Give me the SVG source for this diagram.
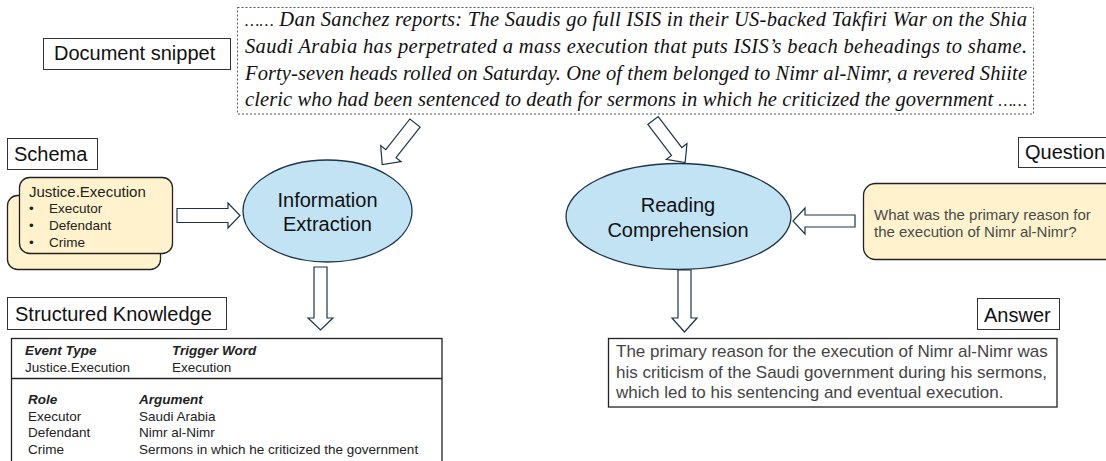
<svg xmlns="http://www.w3.org/2000/svg" width="1106" height="461" viewBox="0 0 1106 461">
<style>
.lbl{fill:#fff;stroke:#333;stroke-width:1}
.lt{font-family:"Liberation Sans",Arial,sans-serif;font-size:20px;fill:#111}
.snip{font-family:"Liberation Serif","Times New Roman",serif;font-style:italic;font-size:20.5px;fill:#111}
.card{fill:#FFF2CC;stroke:#222;stroke-width:1.3}
.ell{fill:#C2E3F4;stroke:#1d3547;stroke-width:1.3}
.et{font-family:"Liberation Sans",Arial,sans-serif;font-size:20px;fill:#111;text-anchor:middle}
.arr{fill:#fff;stroke:#1d3547;stroke-width:1.2;stroke-linejoin:miter}
.s{font-family:"Liberation Sans",Arial,sans-serif;fill:#222}
.tb{font-family:"Liberation Sans",Arial,sans-serif;font-size:13.5px;fill:#222}
.th{font-weight:bold;font-style:italic}
</style>
<defs>
<polygon id="diag" points="0,-6.5 39,-6.5 39,-13 53,0 39,13 39,6.5 0,6.5"/>
</defs>

<g id="doc-label">
<rect class="lbl" x="43.5" y="38.5" width="187" height="31"/>
<text class="lt" x="54" y="60">Document snippet</text>
</g>

<g id="doc-snippet">
<rect x="237.5" y="7.5" width="796" height="106.5" fill="#fff" stroke="#555" stroke-width="1" stroke-dasharray="2,2"/>
<text class="snip" x="245" y="26" textLength="782" lengthAdjust="spacing"><tspan font-size="16">……</tspan> Dan Sanchez reports: The Saudis go full ISIS in their US-backed Takfiri War on the Shia</text>
<text class="snip" x="245" y="53" textLength="782" lengthAdjust="spacing">Saudi Arabia has perpetrated a mass execution that puts ISIS’s beach beheadings to shame.</text>
<text class="snip" x="245" y="80" textLength="782" lengthAdjust="spacing">Forty-seven heads rolled on Saturday. One of them belonged to Nimr al-Nimr, a revered Shiite</text>
<text class="snip" x="245" y="106" textLength="782" lengthAdjust="spacing">cleric who had been sentenced to death for sermons in which he criticized the government <tspan font-size="16">……</tspan></text>
</g>

<g id="schema-label">
<rect class="lbl" x="7.5" y="138.5" width="90" height="31"/>
<text class="lt" x="14" y="161">Schema</text>
</g>

<g id="schema">
<rect class="card" x="7.5" y="195.5" width="153" height="74" rx="10"/>
<rect class="card" x="19.5" y="177.5" width="153" height="76" rx="10"/>
<text class="s" x="29" y="197" font-size="15">Justice.Execution</text>
<g class="s" font-size="13.5">
<text x="29" y="213">•</text><text x="49" y="213">Executor</text>
<text x="29" y="230">•</text><text x="49" y="230">Defendant</text>
<text x="29" y="247">•</text><text x="49" y="247">Crime</text>
</g>
</g>

<g id="information-extraction">
<ellipse class="ell" cx="327.5" cy="211" rx="84.5" ry="51"/>
<text class="et" x="327.5" y="207">Information</text>
<text class="et" x="327.5" y="231">Extraction</text>
</g>

<g id="reading-comprehension">
<ellipse class="ell" cx="678.5" cy="216.5" rx="112.5" ry="53"/>
<text class="et" x="678" y="212">Reading</text>
<text class="et" x="678" y="237">Comprehension</text>
</g>

<g id="question-label">
<rect class="lbl" x="1018.5" y="137.5" width="100" height="30"/>
<text class="lt" x="1025" y="159">Question</text>
</g>

<g id="question">
<rect class="card" x="863.5" y="183.5" width="260" height="76" rx="12"/>
<text class="s" x="874" y="220" font-size="15" style="fill:#4a4a4a">What was the primary reason for</text>
<text class="s" x="874" y="237" font-size="15" style="fill:#4a4a4a">the execution of Nimr al-Nimr?</text>
</g>

<g id="sk-label">
<rect class="lbl" x="7.5" y="297.5" width="219" height="32"/>
<text class="lt" x="15" y="321">Structured Knowledge</text>
</g>

<g id="structured-knowledge">
<rect x="11.5" y="338.5" width="430.5" height="140" fill="#fff" stroke="#222" stroke-width="1.3"/>
<line x1="11.5" y1="378.5" x2="442" y2="378.5" stroke="#222" stroke-width="1.3"/>
<g class="tb">
<text class="th" x="25" y="355">Event Type</text>
<text class="th" x="172" y="355">Trigger Word</text>
<text x="25" y="372">Justice.Execution</text>
<text x="172" y="372">Execution</text>
<text class="th" x="28" y="404">Role</text>
<text class="th" x="139" y="404">Argument</text>
<text x="28" y="420.5">Executor</text>
<text x="139" y="420.5">Saudi Arabia</text>
<text x="28" y="437">Defendant</text>
<text x="139" y="437">Nimr al-Nimr</text>
<text x="28" y="453.5">Crime</text>
<text x="139" y="453.5">Sermons in which he criticized the government</text>
</g>
</g>

<g id="answer-label">
<rect class="lbl" x="977.5" y="298.5" width="82" height="31"/>
<text class="lt" x="984" y="322">Answer</text>
</g>

<g id="answer">
<rect x="608.5" y="338.5" width="448.5" height="68.5" fill="#fff" stroke="#222" stroke-width="1.3"/>
<g class="s" font-size="17" style="fill:#444">
<text x="616" y="357">The primary reason for the execution of Nimr al-Nimr was</text>
<text x="616" y="377.5">his criticism of the Saudi government during his sermons,</text>
<text x="616" y="398">which led to his sentencing and eventual execution.</text>
</g>
</g>

<g id="connectors">
<use href="#diag" class="arr" transform="translate(415,123) rotate(128.2)"/>
<use href="#diag" class="arr" transform="translate(653,120.5) rotate(52.7)"/>
<polygon class="arr" points="177,208.5 228,208.5 228,203 240,215.5 228,228 228,222.5 177,222.5"/>
<polygon class="arr" points="855,215 805,215 805,208 793,221 805,234 805,227 855,227"/>
<polygon class="arr" points="314,267 327,267 327,318 333,318 320.5,330 308,318 314,318"/>
<polygon class="arr" points="678,270 691,270 691,318 697,318 684.5,332 672,318 678,318"/>
</g>
</svg>
